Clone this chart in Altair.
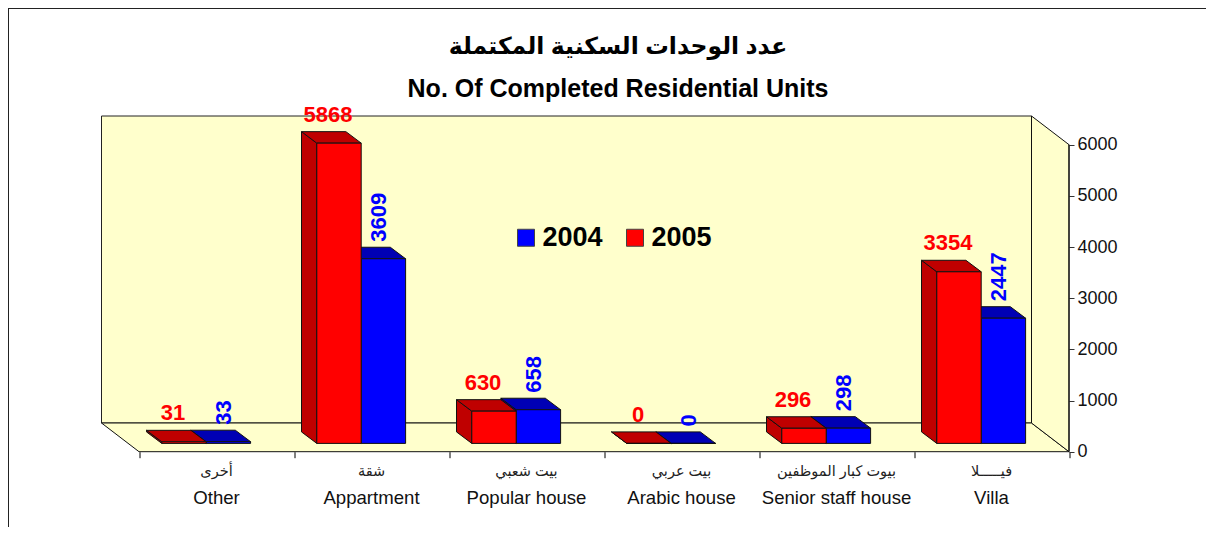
import altair as alt
import pandas as pd

# ---- values
cats_ar = ["أخرى", "شقة", "بيت شعبي", "بيت عربي", "بيوت كبار الموظفين", "فيـــــلا"]
cats_en = ["Other", "Appartment", "Popular house", "Arabic house", "Senior staff house", "Villa"]
values_2004 = [33, 3609, 658, 0, 298, 2447]
values_2005 = [31, 5868, 630, 0, 296, 3354]
years = ["2004", "2005"]
title_ar = "عدد الوحدات السكنية المكتملة"
title_en = "No. Of Completed Residential Units"
y_ticks = [0, 1000, 2000, 3000, 4000, 5000, 6000]

# ---- layout of the fake 3D box (category units / value units)
PX_X = 155.0           # px per category
PX_Y = 307.0 / 6000    # px per value unit
WALL_DX = 37.5 / PX_X
WALL_DV = 28.7 / PX_Y
BAR_DX = 15.3 / PX_X
BAR_DV = 11.5 / PX_Y
BAR_W = 44.4 / PX_X
BAR_START = 22.8 / PX_X
BASE = 8.3 / PX_Y
XMIN, XMAX = -WALL_DX, 6.0
YMIN, YMAX = 0.0, 6000 + WALL_DV
W = (XMAX - XMIN) * PX_X
H = (YMAX - YMIN) * PX_Y

FONT = "Liberation Sans, Arial, DejaVu Sans"
X = alt.Scale(domain=[XMIN, XMAX], nice=False, zero=False)
Y = alt.Scale(domain=[YMIN, YMAX], nice=False, zero=False)
xaxis = alt.Axis(values=list(range(7)), labels=False, title=None, domain=False, grid=False,
                 tickColor="black", tickSize=6, orient="bottom")
yaxis = alt.Axis(values=y_ticks, title=None, domain=False, grid=False, orient="right", format="d",
                 tickColor="#333333", tickSize=5, labelFontSize=18, labelFont=FONT,
                 labelColor="#111111", labelPadding=3)
enc_x = alt.X("x:Q", scale=X, axis=xaxis)
enc_y = alt.Y("y:Q", scale=Y, axis=yaxis)

# ---- box
PAPER = "#FFFFCC"
wall = alt.Chart(pd.DataFrame([{"x": XMIN, "x2": XMAX - WALL_DX, "y": WALL_DV, "y2": YMAX}])).mark_bar(
    fill=PAPER, stroke="#222222", strokeWidth=1).encode(enc_x, alt.X2("x2:Q"), enc_y, alt.Y2("y2:Q"))
floor = alt.Chart(pd.DataFrame([
    {"x": 0.0, "x2": XMAX, "y": 0.0},
    {"x": XMIN, "x2": XMAX - WALL_DX, "y": WALL_DV},
])).mark_area(orient="horizontal", fill=PAPER, stroke="#111111", strokeWidth=1).encode(
    alt.X("x:Q", scale=X, axis=xaxis), alt.X2("x2:Q"), alt.Y("y:Q", scale=Y, axis=yaxis))
right = alt.Chart(pd.DataFrame([
    {"x": XMAX - WALL_DX, "y": WALL_DV, "y2": YMAX},
    {"x": XMAX, "y": 0.0, "y2": 6000.0},
])).mark_area(orient="vertical", fill=PAPER, stroke="#111111", strokeWidth=1).encode(
    enc_x, enc_y, alt.Y2("y2:Q"))
y_line = alt.Chart(pd.DataFrame([{"x": XMAX, "y": 0.0, "y2": 6000.0}])).mark_rule(
    color="black", strokeWidth=1).encode(enc_x, enc_y, alt.Y2("y2:Q"))


def series(values, slot, dark, year):
    rows_front, rows_side, rows_top = [], [], []
    for i, v in enumerate(values):
        l = i + BAR_START + slot * BAR_W
        r = l + BAR_W
        t = BASE + v
        rows_front.append({"x": l, "x2": r, "y": BASE, "y2": t, "year": year})
        rows_side += [{"id": i, "x": l - BAR_DX, "y": BASE + BAR_DV, "y2": t + BAR_DV},
                      {"id": i, "x": l, "y": BASE, "y2": t}]
        rows_top += [{"id": i, "x": l, "x2": r, "y": t},
                     {"id": i, "x": l - BAR_DX, "x2": r - BAR_DX, "y": t + BAR_DV}]
    side = alt.Chart(pd.DataFrame(rows_side)).mark_area(
        orient="vertical", fill=dark, stroke="#111111", strokeWidth=1).encode(
        enc_x, enc_y, alt.Y2("y2:Q"), detail="id:N")
    top = alt.Chart(pd.DataFrame(rows_top)).mark_area(
        orient="horizontal", fill=dark, stroke="#111111", strokeWidth=1).encode(
        enc_x, alt.X2("x2:Q"), enc_y, detail="id:N")
    face = alt.Chart(pd.DataFrame(rows_front)).mark_bar(stroke="#111111", strokeWidth=1).encode(
        enc_x, alt.X2("x2:Q"), enc_y, alt.Y2("y2:Q"),
        color=alt.Color("year:N", scale=alt.Scale(domain=years, range=["#0000FF", "#FF0000"]),
                        legend=alt.Legend(title=None, orient="none", legendX=411, legendY=108,
                                          direction="horizontal", symbolType="square", symbolSize=289,
                                          symbolStrokeColor="#444444", symbolStrokeWidth=1,
                                          labelFontSize=27, labelFontWeight="bold", labelFont=FONT,
                                          labelColor="black", labelOffset=3, columnPadding=18,
                                          padding=0)))
    return [side, top, face]


blue = series(values_2004, 1, "#0000B4", "2004")
red = series(values_2005, 0, "#BF0000", "2005")

# ---- data labels
red_lab = pd.DataFrame([{"x": i + BAR_START + BAR_W / 2 - 11 / PX_X, "y": BASE + v + 28.5 / PX_Y, "t": str(v)}
                        for i, v in enumerate(values_2005)])
blue_lab = pd.DataFrame([{"x": i + BAR_START + 1.5 * BAR_W - 4 / PX_X, "y": BASE + v + 17 / PX_Y, "t": str(v)}
                         for i, v in enumerate(values_2004)])
red_text = alt.Chart(red_lab).mark_text(color="#FF0000", font=FONT, fontSize=22, fontWeight="bold",
                                        align="center", baseline="middle").encode(enc_x, enc_y, text="t:N")
blue_text = alt.Chart(blue_lab).mark_text(color="#0000FF", font=FONT, fontSize=22, fontWeight="bold",
                                          angle=270, align="left", baseline="middle").encode(enc_x, enc_y, text="t:N")

# ---- category labels below the box
cat = pd.DataFrame({"x": [i + 0.5 for i in range(6)], "ar": cats_ar, "en": cats_en})
ar_text = alt.Chart(cat).mark_text(font=FONT, fontSize=14.5, color="#222222", baseline="middle").encode(
    enc_x, y=alt.value(H + 20), text="ar:N")
en_text = alt.Chart(cat).mark_text(font=FONT, fontSize=18.6, color="#111111", baseline="middle").encode(
    enc_x, y=alt.value(H + 46), text="en:N")

# ---- outer frame and titles
PAD_L, PAD_T = 93.5, 108
top_line = alt.Chart(pd.DataFrame({"a": [0]})).mark_rule(color="#222222", strokeWidth=1).encode(
    x=alt.value(-PAD_L + 0.5), x2=alt.value(1198), y=alt.value(-PAD_T + 0.5))
left_line = alt.Chart(pd.DataFrame({"a": [0]})).mark_rule(color="#222222", strokeWidth=1).encode(
    x=alt.value(-PAD_L + 0.5), y=alt.value(-PAD_T), y2=alt.value(500))
TITLE_X = 618 - 101.5
t1 = alt.Chart(pd.DataFrame({"t": [title_ar]})).mark_text(
    font=FONT, fontSize=23.5, fontWeight="bold", color="black", baseline="middle").encode(
    x=alt.value(TITLE_X), y=alt.value(47 - 116.3), text="t:N")
t2 = alt.Chart(pd.DataFrame({"t": [title_en]})).mark_text(
    font=FONT, fontSize=25, fontWeight="bold", color="black", baseline="middle").encode(
    x=alt.value(TITLE_X), y=alt.value(89 - 116.3), text="t:N")

chart = alt.layer(wall, floor, right, y_line, *blue, *red, red_text, blue_text, ar_text, en_text,
                  top_line, left_line, t1, t2).properties(
    width=W, height=H,
    autosize=alt.AutoSizeParams(type="none"),
    padding={"left": PAD_L, "top": PAD_T, "right": 1198 - PAD_L - W, "bottom": 519 - PAD_T - H},
    background="white",
).configure_view(stroke=None).configure_axis(labelFont=FONT)

chart.save("out.html", embed_options={"renderer": "svg", "actions": False})
